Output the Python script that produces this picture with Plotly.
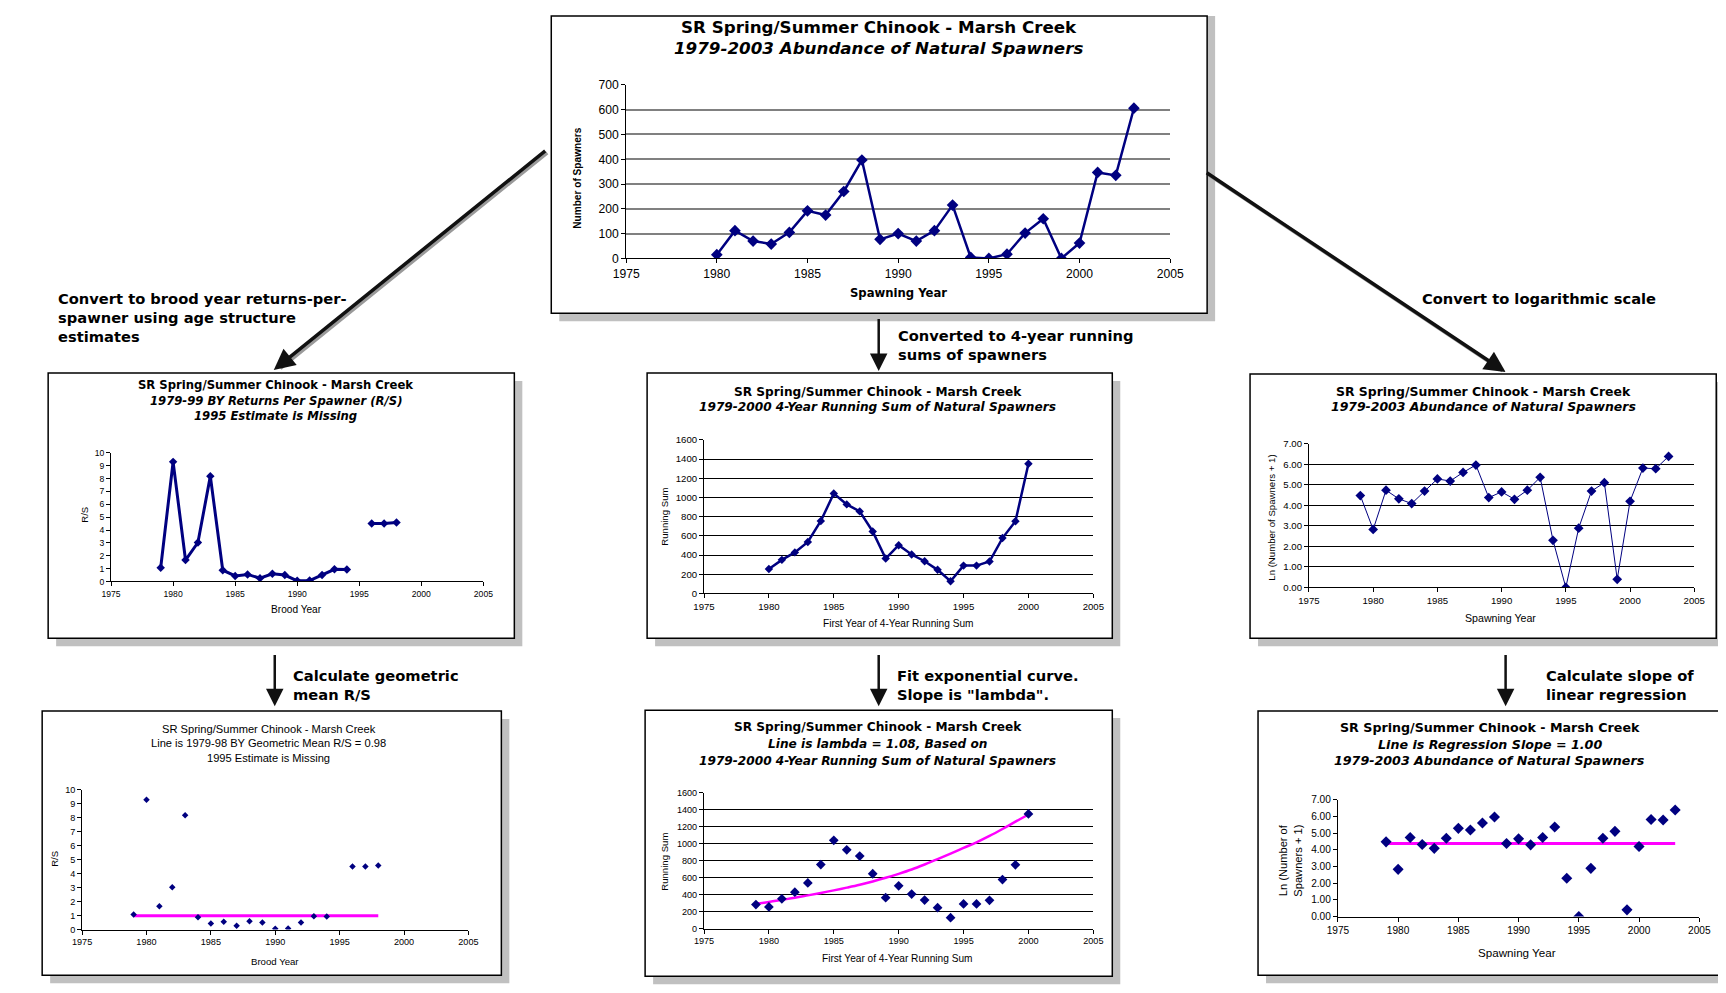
import plotly.graph_objects as go

W, H = 1726, 993

# ---------------- data ----------------
spawn_years = list(range(1980, 2004))
spawners = [15, 112, 70, 58, 105, 192, 175, 270, 397, 77, 100, 70, 112, 215,
            4, 0, 17, 102, 160, 0, 62, 347, 335, 606]

rs_years = list(range(1979, 1999))
rs_values = [1.07, 9.3, 1.67, 3.03, 8.19, 0.88, 0.43, 0.55, 0.26, 0.6, 0.5,
             0.05, 0.07, 0.5, 0.95, 0.93, None, 4.51, 4.51, 4.58]
geomean_years = [1979, 1998]
geomean_rs = [0.98, 0.98]

run_years = list(range(1979, 2001))
run_sums = [282, 255, 350, 428, 537, 755, 1041, 928, 855, 646, 364, 503, 406,
            336, 246, 127, 290, 290, 333, 577, 752, 1352]
run_fit = [293, 313, 338, 363, 391, 420, 450, 482, 516, 555, 598, 645, 696,
           755, 818, 883, 951, 1017, 1092, 1174, 1260, 1345]

ln_years = list(range(1979, 2004))
ln_values = [4.48, 2.83, 4.74, 4.32, 4.09, 4.70, 5.29, 5.19, 5.61, 5.97, 4.38,
             4.66, 4.30, 4.74, 5.37, 2.30, 0.0, 2.89, 4.70, 5.11, 0.40, 4.20,
             5.82, 5.79, 6.39]
reg_years = [1979, 2003]
reg_values = [4.38, 4.38]

x_ticks = [1975, 1980, 1985, 1990, 1995, 2000, 2005]

# ---------------- styling ----------------
NAVY = "#000080"
MAGENTA = "#FF00FF"
TICKF = "Liberation Sans, Arial, sans-serif"
TITLEF = "DejaVu Sans, sans-serif"

# placement calibration (page pixel -> paper)
SX, OX = 0.9855, 20.8
SY, OY = 0.9887, 13.9
FS = 1.013


def fx(x):
    v = (x - OX) / SX
    return min(max(v, 0), W) / W


def fy(y):
    v = (y - OY) / SY
    return 1 - min(max(v, 1), H) / H


fig = go.Figure()
layout = dict(width=W, height=H, margin=dict(l=0, r=0, t=0, b=0),
              paper_bgcolor="white", plot_bgcolor="rgba(0,0,0,0)",
              showlegend=False, hovermode=False)
shapes = []
annotations = []

# boxes with drop shadows (x0, y0, x1, y1)
boxes = [(551, 6, 1208, 313), (47, 373, 514, 639), (647, 373, 1113, 639),
         (1251, 374, 1718, 639), (41, 712, 501, 977), (645, 711, 1113, 978),
         (1259, 712, 1723, 977)]
for (x0, y0, x1, y1) in boxes:
    shapes.append(dict(type="rect", xref="paper", yref="paper", layer="below",
                       x0=fx(x0 + 8), x1=fx(x1 + 8), y0=fy(y1 + 8), y1=fy(y0 + 8),
                       fillcolor="#c0c0c0", line=dict(width=0)))
    shapes.append(dict(type="rect", xref="paper", yref="paper", layer="below",
                       x0=fx(x0), x1=fx(x1), y0=fy(y1), y1=fy(y0),
                       fillcolor="white", line=dict(color="black", width=1.5)))

# panels: id, plot rect, y range, y step, y format, grid, grid colour, grid width, tick size
panels = [
    (1, (626, 84, 1171, 258), [0, 700], 100, "", True, "#808080", 1.5, 12),
    (2, (110, 453, 483, 582), [0, 10], 1, "", False, "black", 1, 8.5),
    (3, (704, 440, 1094, 594), [0, 1600], 200, "", True, "black", 1, 9.5),
    (4, (1310, 444, 1696, 588), [0, 7], 1, ".2f", True, "black", 1, 9.5),
    (5, (81, 791, 468, 931), [0, 10], 1, "", False, "black", 1, 9),
    (6, (704, 794, 1094, 930), [0, 1600], 200, "", True, "black", 1, 9),
    (7, (1339, 801, 1701, 918), [0, 7], 1, ".2f", False, "black", 1, 10),
]
for (i, (x0, y0, x1, y1), yr, ystep, yfmt, grid, gcol, gw, ts) in panels:
    xa = "xaxis" if i == 1 else f"xaxis{i}"
    ya = "yaxis" if i == 1 else f"yaxis{i}"
    layout[xa] = dict(domain=[fx(x0), fx(x1)], anchor=f"y{i}" if i > 1 else "y",
                      range=[1975, 2005], tickvals=x_ticks, showgrid=False,
                      zeroline=False, showline=True, linecolor="black", linewidth=1,
                      ticks="outside", ticklen=4, tickcolor="black",
                      tickfont=dict(family=TICKF, size=ts * FS, color="black"))
    layout[ya] = dict(domain=[fy(y1), fy(y0)], anchor=f"x{i}" if i > 1 else "x",
                      range=yr, dtick=ystep, tick0=0, tickformat=yfmt,
                      showgrid=grid, gridcolor=gcol, gridwidth=gw, zeroline=False,
                      showline=True, linecolor="black", linewidth=1,
                      ticks="outside", ticklen=4, tickcolor="black",
                      tickfont=dict(family=TICKF, size=ts * FS, color="black"))


def ax(i):
    return ("x", "y") if i == 1 else (f"x{i}", f"y{i}")


# panel 1: spawners
fig.add_trace(go.Scatter(x=spawn_years, y=spawners, mode="lines+markers",
                         line=dict(color=NAVY, width=2.5),
                         marker=dict(symbol="diamond", size=9, color=NAVY),
                         xaxis=ax(1)[0], yaxis=ax(1)[1]))
# panel 2: R/S
fig.add_trace(go.Scatter(x=rs_years, y=rs_values, mode="lines+markers",
                         line=dict(color=NAVY, width=3),
                         marker=dict(symbol="diamond", size=6.5, color=NAVY),
                         xaxis=ax(2)[0], yaxis=ax(2)[1]))
# panel 3: running sums (first year 1980)
fig.add_trace(go.Scatter(x=run_years[1:], y=run_sums[1:], mode="lines+markers",
                         line=dict(color=NAVY, width=2.5),
                         marker=dict(symbol="diamond", size=6.5, color=NAVY),
                         xaxis=ax(3)[0], yaxis=ax(3)[1]))
# panel 4: ln
fig.add_trace(go.Scatter(x=ln_years, y=ln_values, mode="lines+markers",
                         line=dict(color=NAVY, width=1),
                         marker=dict(symbol="diamond", size=7.5, color=NAVY),
                         xaxis=ax(4)[0], yaxis=ax(4)[1]))
# panel 5: R/S points + geometric mean
fig.add_trace(go.Scatter(x=geomean_years, y=geomean_rs, mode="lines",
                         line=dict(color=MAGENTA, width=3),
                         xaxis=ax(5)[0], yaxis=ax(5)[1]))
fig.add_trace(go.Scatter(x=rs_years, y=rs_values, mode="markers",
                         marker=dict(symbol="diamond", size=5, color=NAVY),
                         xaxis=ax(5)[0], yaxis=ax(5)[1]))
# panel 6: running sums + exponential fit
fig.add_trace(go.Scatter(x=run_years, y=run_fit, mode="lines",
                         line=dict(color=MAGENTA, width=2.5, shape="spline"),
                         xaxis=ax(6)[0], yaxis=ax(6)[1]))
fig.add_trace(go.Scatter(x=run_years, y=run_sums, mode="markers",
                         marker=dict(symbol="diamond", size=7.5, color=NAVY),
                         xaxis=ax(6)[0], yaxis=ax(6)[1]))
# panel 7: ln + regression
fig.add_trace(go.Scatter(x=reg_years, y=reg_values, mode="lines",
                         line=dict(color=MAGENTA, width=3),
                         xaxis=ax(7)[0], yaxis=ax(7)[1]))
fig.add_trace(go.Scatter(x=ln_years, y=ln_values, mode="markers",
                         marker=dict(symbol="diamond", size=8.5, color=NAVY),
                         xaxis=ax(7)[0], yaxis=ax(7)[1]))


def text(x, y, s, size, family=TITLEF, xanchor="center", angle=0):
    annotations.append(dict(xref="paper", yref="paper", x=fx(x), y=fy(y), text=s,
                            showarrow=False, xanchor=xanchor, yanchor="middle",
                            textangle=angle,
                            font=dict(family=family, size=size * FS, color="black")))


T = "SR Spring/Summer Chinook - Marsh Creek"
# chart titles
text(879, 26, f"<b>{T}</b>", 16.5)
text(879, 47, "<b><i>1979-2003 Abundance of Natural Spawners</i></b>", 16.5)

text(275, 385, f"<b>{T}</b>", 11.5)
text(275, 401, "<b><i>1979-99 BY Returns Per Spawner (R/S)</i></b>", 11.5)
text(275, 416, "<b><i>1995 Estimate is Missing</i></b>", 11.5)

text(878, 392, f"<b>{T}</b>", 12)
text(878, 407, "<b><i>1979-2000 4-Year Running Sum of Natural Spawners</i></b>", 12)

text(1485, 391, f"<b>{T}</b>", 12.3)
text(1485, 407, "<b><i>1979-2003 Abundance of Natural Spawners</i></b>", 12.3)

text(268, 730, T, 11, TICKF)
text(268, 744, "Line is 1979-98 BY Geometric Mean R/S = 0.98", 11, TICKF)
text(268, 759, "1995 Estimate is Missing", 11, TICKF)

text(878, 728, f"<b>{T}</b>", 12)
text(878, 745, "<b><i>Line is lambda = 1.08, Based on</i></b>", 12)
text(878, 762, "<b><i>1979-2000 4-Year Running Sum of Natural Spawners</i></b>", 12)

text(1491, 728, f"<b>{T}</b>", 12.5)
text(1491, 745, "<b><i>Line is Regression Slope = 1.00</i></b>", 12.5)
text(1491, 762, "<b><i>1979-2003 Abundance of Natural Spawners</i></b>", 12.5)

# axis titles
text(577, 177, "<b>Number of Spawners</b>", 10, TICKF, angle=-90)
text(899, 293, "<b>Spawning Year</b>", 11.5)
text(84, 515, "R/S", 9.5, TICKF, angle=-90)
text(296, 610, "Brood Year", 10, TICKF)
text(665, 517, "Running Sum", 9.5, TICKF, angle=-90)
text(898, 624, "First Year of 4-Year Running Sum", 10, TICKF)
text(1273, 518, "Ln (Number of Spawners + 1)", 9.5, TICKF, angle=-90)
text(1502, 619, "Spawning Year", 10.5, TICKF)
text(54, 860, "R/S", 9.5, TICKF, angle=-90)
text(274, 963, "Brood Year", 9.5, TICKF)
text(665, 863, "Running Sum", 9.5, TICKF, angle=-90)
text(897, 960, "First Year of 4-Year Running Sum", 10, TICKF)
text(1291, 862, "Ln (Number of<br>Spawners + 1)", 11, TICKF, angle=-90)
text(1518, 954, "Spawning Year", 11.5, TICKF)

# step labels
NOTE = 14.5
for (x, y, s) in [(55, 298, "Convert to brood year returns-per-"),
                  (55, 317, "spawner using age structure"),
                  (55, 336, "estimates"),
                  (896, 335, "Converted to 4-year running"),
                  (896, 354, "sums of spawners"),
                  (1421, 298, "Convert to logarithmic scale"),
                  (290, 676, "Calculate geometric"),
                  (290, 695, "mean R/S"),
                  (895, 676, "Fit exponential curve."),
                  (895, 695, "Slope is \"lambda\"."),
                  (1545, 676, "Calculate slope of"),
                  (1545, 695, "linear regression")]:
    text(x, y, f"<b>{s}</b>", NOTE, xanchor="left")

# arrows: (tip, tail, width)
arrows = [((273, 370), (542, 152), 3.5), ((1507, 372), (1211, 174), 3.5),
          ((879, 371), (879, 318), 2.5), ((274, 707), (274, 655), 2.5),
          ((879, 707), (879, 655), 2.5), ((1507, 707), (1507, 655), 2.5)]
for (tip, tail, w) in arrows:
    dx = (tail[0] - tip[0]) / SX
    dy = (tail[1] - tip[1]) / SY
    if tip[0] != tail[0]:
        annotations.append(dict(xref="paper", yref="paper", x=fx(tip[0] + 2), y=fy(tip[1] + 2),
                                ax=dx, ay=dy, text="",
                                showarrow=True, arrowhead=0, arrowwidth=w,
                                arrowcolor="#9a9a9a", standoff=6))
    annotations.append(dict(xref="paper", yref="paper", x=fx(tip[0]), y=fy(tip[1]),
                            ax=dx, ay=dy, text="",
                            showarrow=True, arrowhead=2, arrowsize=1.2 if w > 3 else 1.4,
                            arrowwidth=w, arrowcolor="#111111", standoff=0))

layout["shapes"] = shapes
layout["annotations"] = annotations
fig.update_layout(**layout)
fig.write_html("out.html", config={"displayModeBar": False})
